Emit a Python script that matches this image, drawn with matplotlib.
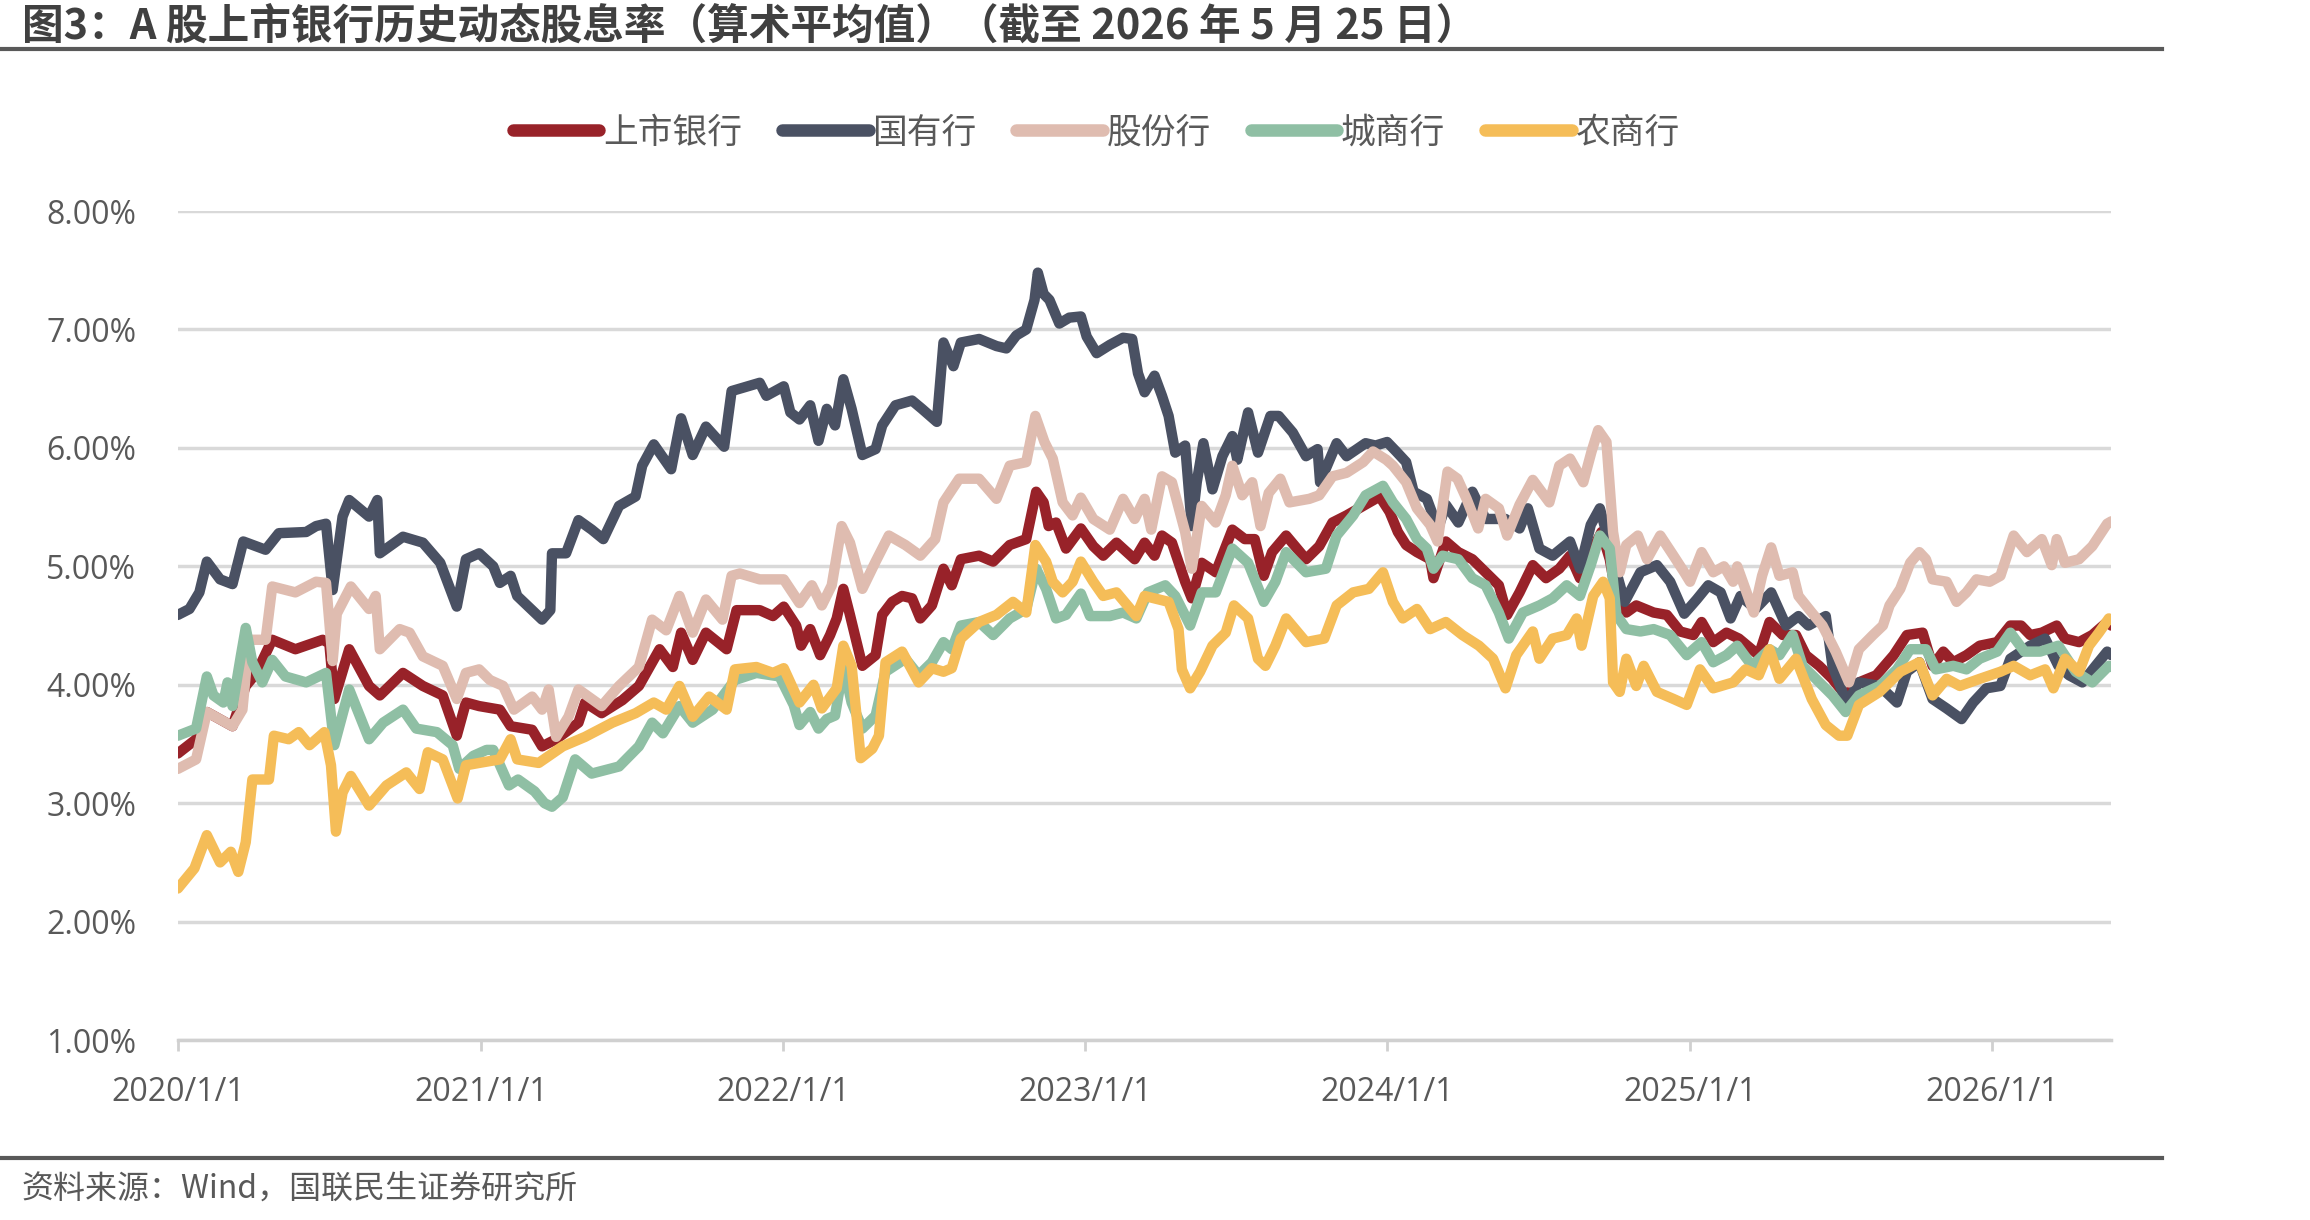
import pandas as pd
import matplotlib
matplotlib.use("Agg")
import matplotlib.pyplot as plt
from matplotlib.lines import Line2D
from matplotlib.ticker import FuncFormatter

plt.rcParams['font.family'] = ['Noto Sans CJK SC', 'DejaVu Sans']

# (date, dividend yield %)
listed = [
    ("2020-01-01", 3.42), ("2020-01-23", 3.54), ("2020-02-05", 3.77), ("2020-03-07", 3.65), ("2020-03-23", 3.99),
    ("2020-04-05", 4.10), ("2020-04-24", 4.38), ("2020-05-22", 4.30), ("2020-06-24", 4.38), ("2020-07-02", 4.35),
    ("2020-07-08", 3.88), ("2020-07-26", 4.30), ("2020-08-19", 3.99), ("2020-09-01", 3.91), ("2020-09-29", 4.10),
    ("2020-10-23", 3.99), ("2020-11-16", 3.91), ("2020-12-03", 3.57), ("2020-12-14", 3.85), ("2020-12-30", 3.82),
    ("2021-01-24", 3.79), ("2021-02-06", 3.65), ("2021-03-04", 3.62), ("2021-03-16", 3.48), ("2021-04-02", 3.54),
    ("2021-04-29", 3.68), ("2021-05-07", 3.85), ("2021-05-27", 3.76), ("2021-06-21", 3.87), ("2021-07-11", 3.99),
    ("2021-08-05", 4.30), ("2021-08-21", 4.15), ("2021-08-31", 4.44), ("2021-09-14", 4.21), ("2021-09-30", 4.44),
    ("2021-10-25", 4.30), ("2021-11-06", 4.63), ("2021-12-04", 4.63), ("2021-12-20", 4.58), ("2022-01-02", 4.66),
    ("2022-01-17", 4.50), ("2022-01-23", 4.33), ("2022-02-03", 4.47), ("2022-02-15", 4.25), ("2022-02-27", 4.42),
    ("2022-03-07", 4.56), ("2022-03-15", 4.81), ("2022-03-23", 4.59), ("2022-04-07", 4.16), ("2022-04-23", 4.25),
    ("2022-05-01", 4.59), ("2022-05-13", 4.70), ("2022-05-25", 4.75), ("2022-06-06", 4.73), ("2022-06-16", 4.56),
    ("2022-06-30", 4.67), ("2022-07-14", 4.98), ("2022-07-24", 4.84), ("2022-08-04", 5.06), ("2022-08-26", 5.09),
    ("2022-09-12", 5.04), ("2022-10-02", 5.18), ("2022-10-22", 5.23), ("2022-11-03", 5.63), ("2022-11-12", 5.54),
    ("2022-11-18", 5.34), ("2022-11-27", 5.37), ("2022-12-09", 5.15), ("2022-12-27", 5.32), ("2023-01-11", 5.17),
    ("2023-01-23", 5.09), ("2023-02-08", 5.20), ("2023-03-02", 5.06), ("2023-03-14", 5.20), ("2023-03-26", 5.09),
    ("2023-04-04", 5.26), ("2023-04-16", 5.20), ("2023-05-02", 4.87), ("2023-05-10", 4.73), ("2023-05-22", 5.03),
    ("2023-06-08", 4.95), ("2023-06-28", 5.31), ("2023-07-13", 5.23), ("2023-07-25", 5.23), ("2023-08-05", 4.92),
    ("2023-08-15", 5.12), ("2023-09-01", 5.26), ("2023-09-25", 5.06), ("2023-10-11", 5.17), ("2023-10-27", 5.37),
    ("2023-11-13", 5.43), ("2023-12-03", 5.51), ("2023-12-23", 5.59), ("2024-01-04", 5.46), ("2024-01-14", 5.29),
    ("2024-01-24", 5.18), ("2024-02-06", 5.12), ("2024-02-22", 5.06), ("2024-02-26", 4.90), ("2024-03-12", 5.21),
    ("2024-03-27", 5.12), ("2024-04-13", 5.06), ("2024-04-29", 4.95), ("2024-05-15", 4.84), ("2024-05-25", 4.59),
    ("2024-06-09", 4.78), ("2024-06-25", 5.01), ("2024-07-11", 4.90), ("2024-07-27", 4.98), ("2024-08-09", 5.09),
    ("2024-08-21", 4.90), ("2024-09-06", 5.15), ("2024-09-16", 5.29), ("2024-09-26", 5.06), ("2024-10-04", 4.75),
    ("2024-10-16", 4.61), ("2024-10-28", 4.67), ("2024-11-18", 4.61), ("2024-12-04", 4.59), ("2024-12-20", 4.45),
    ("2025-01-05", 4.42), ("2025-01-15", 4.53), ("2025-01-29", 4.36), ("2025-02-14", 4.44), ("2025-03-01", 4.39),
    ("2025-03-25", 4.25), ("2025-04-07", 4.53), ("2025-04-23", 4.42), ("2025-05-09", 4.42), ("2025-05-21", 4.25),
    ("2025-06-06", 4.16), ("2025-06-22", 4.05), ("2025-07-08", 3.91), ("2025-07-24", 4.02), ("2025-08-14", 4.08),
    ("2025-09-04", 4.25), ("2025-09-20", 4.42), ("2025-10-09", 4.44), ("2025-10-21", 4.16), ("2025-11-03", 4.28),
    ("2025-11-15", 4.19), ("2025-12-01", 4.25), ("2025-12-17", 4.33), ("2026-01-07", 4.36), ("2026-01-23", 4.50),
    ("2026-02-05", 4.50), ("2026-02-16", 4.42), ("2026-03-02", 4.44), ("2026-03-20", 4.50), ("2026-03-30", 4.39),
    ("2026-04-16", 4.36), ("2026-05-02", 4.42), ("2026-05-20", 4.53), ("2026-05-25", 4.50),
]

state = [
    ("2020-01-01", 4.59), ("2020-01-15", 4.64), ("2020-01-27", 4.78), ("2020-02-05", 5.04), ("2020-02-21", 4.89),
    ("2020-03-07", 4.85), ("2020-03-20", 5.21), ("2020-04-16", 5.14), ("2020-05-02", 5.28), ("2020-06-04", 5.29),
    ("2020-06-16", 5.34), ("2020-06-28", 5.36), ("2020-07-06", 4.80), ("2020-07-18", 5.42), ("2020-07-26", 5.56),
    ("2020-08-19", 5.42), ("2020-08-29", 5.56), ("2020-09-01", 5.11), ("2020-09-29", 5.25), ("2020-10-23", 5.20),
    ("2020-11-13", 5.03), ("2020-12-03", 4.66), ("2020-12-14", 5.06), ("2020-12-30", 5.11), ("2021-01-16", 5.00),
    ("2021-01-24", 4.86), ("2021-02-06", 4.92), ("2021-02-14", 4.75), ("2021-03-04", 4.63), ("2021-03-16", 4.55),
    ("2021-03-26", 4.63), ("2021-03-28", 5.11), ("2021-04-14", 5.11), ("2021-04-29", 5.39), ("2021-05-15", 5.31),
    ("2021-05-29", 5.23), ("2021-06-17", 5.51), ("2021-07-07", 5.59), ("2021-07-15", 5.85), ("2021-07-29", 6.03),
    ("2021-08-19", 5.82), ("2021-08-31", 6.25), ("2021-09-14", 5.94), ("2021-09-30", 6.18), ("2021-10-22", 6.01),
    ("2021-10-31", 6.48), ("2021-12-04", 6.55), ("2021-12-12", 6.44), ("2022-01-02", 6.52), ("2022-01-10", 6.30),
    ("2022-01-21", 6.24), ("2022-02-03", 6.36), ("2022-02-13", 6.06), ("2022-02-23", 6.33), ("2022-03-05", 6.19),
    ("2022-03-15", 6.58), ("2022-03-25", 6.33), ("2022-04-07", 5.94), ("2022-04-23", 5.99), ("2022-05-01", 6.19),
    ("2022-05-17", 6.36), ("2022-06-06", 6.40), ("2022-06-18", 6.33), ("2022-07-06", 6.22), ("2022-07-14", 6.89),
    ("2022-07-26", 6.69), ("2022-08-04", 6.89), ("2022-08-26", 6.92), ("2022-09-16", 6.86), ("2022-09-28", 6.84),
    ("2022-10-10", 6.95), ("2022-10-22", 7.00), ("2022-11-01", 7.25), ("2022-11-05", 7.48), ("2022-11-12", 7.30),
    ("2022-11-19", 7.25), ("2022-12-01", 7.05), ("2022-12-13", 7.10), ("2022-12-27", 7.11), ("2023-01-03", 6.94),
    ("2023-01-15", 6.80), ("2023-01-31", 6.87), ("2023-02-16", 6.93), ("2023-02-27", 6.92), ("2023-03-06", 6.63),
    ("2023-03-14", 6.47), ("2023-03-26", 6.61), ("2023-04-04", 6.44), ("2023-04-12", 6.27), ("2023-04-20", 5.96),
    ("2023-05-02", 6.02), ("2023-05-10", 5.34), ("2023-05-16", 5.71), ("2023-05-24", 6.04), ("2023-06-04", 5.65),
    ("2023-06-16", 5.93), ("2023-06-28", 6.10), ("2023-07-04", 5.90), ("2023-07-17", 6.30), ("2023-07-29", 5.96),
    ("2023-08-13", 6.27), ("2023-08-23", 6.27), ("2023-09-09", 6.13), ("2023-09-25", 5.93), ("2023-10-09", 5.99),
    ("2023-10-12", 5.71), ("2023-11-01", 6.04), ("2023-11-13", 5.93), ("2023-12-06", 6.04), ("2023-12-18", 6.02),
    ("2024-01-01", 6.05), ("2024-01-12", 5.97), ("2024-01-24", 5.88), ("2024-02-02", 5.63), ("2024-02-18", 5.57),
    ("2024-02-27", 5.40), ("2024-03-04", 5.35), ("2024-03-12", 5.52), ("2024-03-27", 5.37), ("2024-04-13", 5.63),
    ("2024-04-29", 5.40), ("2024-05-23", 5.40), ("2024-06-09", 5.32), ("2024-06-19", 5.49), ("2024-07-03", 5.15),
    ("2024-07-19", 5.09), ("2024-08-09", 5.21), ("2024-08-21", 4.98), ("2024-09-03", 5.35), ("2024-09-14", 5.49),
    ("2024-09-26", 5.18), ("2024-10-04", 4.95), ("2024-10-14", 4.70), ("2024-11-02", 4.95), ("2024-11-22", 5.01),
    ("2024-12-08", 4.87), ("2024-12-25", 4.60), ("2025-01-09", 4.72), ("2025-01-23", 4.84), ("2025-02-07", 4.78),
    ("2025-02-19", 4.56), ("2025-03-03", 4.75), ("2025-03-21", 4.64), ("2025-04-09", 4.78), ("2025-04-27", 4.50),
    ("2025-05-12", 4.58), ("2025-05-24", 4.50), ("2025-06-14", 4.58), ("2025-06-22", 4.16), ("2025-07-04", 3.94),
    ("2025-07-10", 3.85), ("2025-07-24", 4.02), ("2025-08-18", 3.99), ("2025-09-08", 3.85), ("2025-09-20", 4.11),
    ("2025-10-05", 4.19), ("2025-10-21", 3.88), ("2025-11-07", 3.80), ("2025-11-25", 3.71), ("2025-12-09", 3.85),
    ("2025-12-25", 3.97), ("2026-01-11", 3.99), ("2026-01-23", 4.22), ("2026-02-16", 4.33), ("2026-03-06", 4.39),
    ("2026-03-22", 4.16), ("2026-04-04", 4.08), ("2026-04-20", 4.02), ("2026-05-06", 4.16), ("2026-05-20", 4.28),
    ("2026-05-25", 4.25),
]

joint = [
    ("2020-01-01", 3.29), ("2020-01-23", 3.37), ("2020-02-05", 3.77), ("2020-03-07", 3.65), ("2020-03-19", 3.79),
    ("2020-03-27", 4.38), ("2020-04-16", 4.38), ("2020-04-24", 4.83), ("2020-05-22", 4.78), ("2020-06-16", 4.87),
    ("2020-06-28", 4.86), ("2020-07-06", 4.20), ("2020-07-11", 4.60), ("2020-07-28", 4.83), ("2020-08-19", 4.64),
    ("2020-08-27", 4.75), ("2020-09-01", 4.30), ("2020-09-25", 4.47), ("2020-10-07", 4.44), ("2020-10-23", 4.24),
    ("2020-11-16", 4.16), ("2020-12-03", 3.88), ("2020-12-14", 4.10), ("2020-12-30", 4.13), ("2021-01-12", 4.04),
    ("2021-01-28", 3.99), ("2021-02-10", 3.79), ("2021-03-04", 3.90), ("2021-03-16", 3.79), ("2021-03-24", 3.96),
    ("2021-04-02", 3.56), ("2021-04-17", 3.73), ("2021-04-29", 3.96), ("2021-05-27", 3.82), ("2021-06-17", 3.99),
    ("2021-07-11", 4.15), ("2021-07-27", 4.55), ("2021-08-13", 4.46), ("2021-08-29", 4.75), ("2021-09-14", 4.44),
    ("2021-09-30", 4.72), ("2021-10-20", 4.55), ("2021-10-31", 4.92), ("2021-11-10", 4.94), ("2021-12-04", 4.89),
    ("2022-01-02", 4.89), ("2022-01-21", 4.69), ("2022-02-05", 4.84), ("2022-02-17", 4.67), ("2022-03-01", 4.84),
    ("2022-03-13", 5.34), ("2022-03-23", 5.20), ("2022-04-07", 4.81), ("2022-04-23", 5.04), ("2022-05-09", 5.26),
    ("2022-05-29", 5.18), ("2022-06-16", 5.09), ("2022-07-04", 5.23), ("2022-07-14", 5.54), ("2022-08-02", 5.74),
    ("2022-08-26", 5.74), ("2022-09-16", 5.57), ("2022-10-02", 5.85), ("2022-10-22", 5.88), ("2022-11-02", 6.27),
    ("2022-11-13", 6.05), ("2022-11-23", 5.91), ("2022-12-05", 5.54), ("2022-12-17", 5.43), ("2022-12-27", 5.58),
    ("2023-01-11", 5.40), ("2023-01-31", 5.31), ("2023-02-16", 5.57), ("2023-03-02", 5.40), ("2023-03-14", 5.57),
    ("2023-03-22", 5.31), ("2023-04-04", 5.76), ("2023-04-16", 5.71), ("2023-05-02", 5.29), ("2023-05-10", 4.98),
    ("2023-05-22", 5.51), ("2023-06-08", 5.37), ("2023-06-20", 5.60), ("2023-06-28", 5.85), ("2023-07-10", 5.60),
    ("2023-07-22", 5.71), ("2023-08-01", 5.34), ("2023-08-11", 5.62), ("2023-08-25", 5.74), ("2023-09-05", 5.54),
    ("2023-09-29", 5.57), ("2023-10-11", 5.60), ("2023-10-27", 5.76), ("2023-11-13", 5.79), ("2023-12-03", 5.88),
    ("2023-12-15", 5.97), ("2023-12-31", 5.90), ("2024-01-08", 5.85), ("2024-01-24", 5.71), ("2024-02-06", 5.49),
    ("2024-02-22", 5.35), ("2024-03-02", 5.21), ("2024-03-14", 5.80), ("2024-03-26", 5.74), ("2024-04-06", 5.57),
    ("2024-04-20", 5.32), ("2024-04-29", 5.57), ("2024-05-15", 5.49), ("2024-05-25", 5.26), ("2024-06-09", 5.52),
    ("2024-06-25", 5.73), ("2024-07-15", 5.54), ("2024-07-27", 5.85), ("2024-08-09", 5.91), ("2024-08-25", 5.71),
    ("2024-09-04", 5.97), ("2024-09-12", 6.15), ("2024-09-22", 6.05), ("2024-09-30", 5.29), ("2024-10-08", 4.95),
    ("2024-10-16", 5.18), ("2024-10-30", 5.26), ("2024-11-10", 5.06), ("2024-11-26", 5.26), ("2024-12-12", 5.09),
    ("2024-12-25", 4.95), ("2025-01-01", 4.87), ("2025-01-15", 5.12), ("2025-01-29", 4.95), ("2025-02-11", 5.00),
    ("2025-02-22", 4.87), ("2025-02-27", 5.00), ("2025-03-19", 4.61), ("2025-03-29", 4.92), ("2025-04-09", 5.16),
    ("2025-04-19", 4.92), ("2025-05-05", 4.95), ("2025-05-12", 4.75), ("2025-05-28", 4.61), ("2025-06-10", 4.50),
    ("2025-06-26", 4.28), ("2025-07-12", 4.02), ("2025-07-24", 4.30), ("2025-08-10", 4.42), ("2025-08-22", 4.50),
    ("2025-08-30", 4.67), ("2025-09-12", 4.81), ("2025-09-24", 5.03), ("2025-10-05", 5.12), ("2025-10-13", 5.06),
    ("2025-10-21", 4.89), ("2025-11-07", 4.87), ("2025-11-19", 4.70), ("2025-12-01", 4.78), ("2025-12-13", 4.89),
    ("2025-12-29", 4.87), ("2026-01-11", 4.92), ("2026-01-27", 5.26), ("2026-02-12", 5.12), ("2026-03-02", 5.23),
    ("2026-03-14", 5.01), ("2026-03-20", 5.23), ("2026-03-30", 5.03), ("2026-04-16", 5.06), ("2026-05-02", 5.17),
    ("2026-05-20", 5.36), ("2026-05-25", 5.38),
]

city = [
    ("2020-01-01", 3.57), ("2020-01-23", 3.63), ("2020-02-05", 4.07), ("2020-02-13", 3.91), ("2020-02-25", 3.85),
    ("2020-03-01", 4.02), ("2020-03-07", 3.82), ("2020-03-17", 4.24), ("2020-03-23", 4.48), ("2020-03-31", 4.19),
    ("2020-04-12", 4.02), ("2020-04-24", 4.21), ("2020-05-10", 4.07), ("2020-06-04", 4.02), ("2020-06-28", 4.10),
    ("2020-07-08", 3.49), ("2020-07-26", 3.96), ("2020-08-19", 3.54), ("2020-09-05", 3.68), ("2020-09-29", 3.79),
    ("2020-10-15", 3.63), ("2020-11-09", 3.60), ("2020-11-28", 3.49), ("2020-12-06", 3.29), ("2020-12-23", 3.40),
    ("2021-01-08", 3.45), ("2021-01-16", 3.45), ("2021-02-04", 3.15), ("2021-02-15", 3.20), ("2021-03-07", 3.10),
    ("2021-03-19", 3.00), ("2021-03-28", 2.97), ("2021-04-10", 3.05), ("2021-04-25", 3.37), ("2021-05-15", 3.25),
    ("2021-06-17", 3.31), ("2021-07-11", 3.48), ("2021-07-27", 3.68), ("2021-08-09", 3.59), ("2021-08-29", 3.82),
    ("2021-09-14", 3.68), ("2021-10-08", 3.79), ("2021-11-04", 4.04), ("2021-11-30", 4.10), ("2021-12-28", 4.07),
    ("2022-01-14", 3.83), ("2022-01-21", 3.66), ("2022-02-03", 3.77), ("2022-02-13", 3.63), ("2022-02-23", 3.71),
    ("2022-03-05", 3.74), ("2022-03-15", 4.16), ("2022-03-25", 3.85), ("2022-04-07", 3.63), ("2022-04-23", 3.74),
    ("2022-05-05", 4.11), ("2022-05-29", 4.22), ("2022-06-14", 4.08), ("2022-06-30", 4.19), ("2022-07-14", 4.36),
    ("2022-07-24", 4.30), ("2022-08-04", 4.50), ("2022-08-26", 4.53), ("2022-09-12", 4.42), ("2022-10-02", 4.56),
    ("2022-10-22", 4.64), ("2022-11-03", 4.98), ("2022-11-15", 4.81), ("2022-11-27", 4.56), ("2022-12-09", 4.59),
    ("2022-12-27", 4.77), ("2023-01-07", 4.58), ("2023-01-31", 4.58), ("2023-02-16", 4.61), ("2023-03-04", 4.56),
    ("2023-03-18", 4.78), ("2023-04-08", 4.84), ("2023-04-20", 4.75), ("2023-05-08", 4.50), ("2023-05-22", 4.78),
    ("2023-06-08", 4.78), ("2023-06-28", 5.15), ("2023-07-17", 5.03), ("2023-08-05", 4.70), ("2023-08-19", 4.87),
    ("2023-09-01", 5.12), ("2023-09-25", 4.95), ("2023-10-19", 4.98), ("2023-11-01", 5.26), ("2023-11-21", 5.43),
    ("2023-12-06", 5.60), ("2023-12-27", 5.68), ("2024-01-08", 5.54), ("2024-01-24", 5.40), ("2024-02-06", 5.23),
    ("2024-02-18", 5.15), ("2024-02-26", 4.98), ("2024-03-08", 5.09), ("2024-03-27", 5.06), ("2024-04-13", 4.90),
    ("2024-04-29", 4.84), ("2024-05-15", 4.61), ("2024-05-27", 4.39), ("2024-06-13", 4.61), ("2024-07-03", 4.67),
    ("2024-07-19", 4.73), ("2024-08-05", 4.84), ("2024-08-21", 4.75), ("2024-09-03", 5.01), ("2024-09-14", 5.26),
    ("2024-09-26", 5.15), ("2024-10-04", 4.59), ("2024-10-16", 4.47), ("2024-11-02", 4.45), ("2024-11-18", 4.47),
    ("2024-12-08", 4.42), ("2024-12-28", 4.25), ("2025-01-15", 4.36), ("2025-01-29", 4.19), ("2025-02-14", 4.25),
    ("2025-02-27", 4.33), ("2025-03-17", 4.16), ("2025-04-07", 4.30), ("2025-04-19", 4.25), ("2025-05-05", 4.42),
    ("2025-05-17", 4.16), ("2025-06-02", 4.05), ("2025-06-22", 3.91), ("2025-07-08", 3.77), ("2025-07-24", 3.91),
    ("2025-08-18", 3.99), ("2025-09-08", 4.13), ("2025-09-24", 4.30), ("2025-10-13", 4.30), ("2025-10-25", 4.13),
    ("2025-11-15", 4.16), ("2025-12-01", 4.13), ("2025-12-17", 4.22), ("2026-01-07", 4.28), ("2026-01-23", 4.44),
    ("2026-02-09", 4.28), ("2026-02-28", 4.28), ("2026-03-22", 4.33), ("2026-04-12", 4.11), ("2026-05-02", 4.02),
    ("2026-05-22", 4.16), ("2026-05-25", 4.15),
]

rural = [
    ("2020-01-01", 2.28), ("2020-01-21", 2.45), ("2020-02-05", 2.73), ("2020-02-21", 2.50), ("2020-03-05", 2.59),
    ("2020-03-14", 2.42), ("2020-03-23", 2.67), ("2020-03-31", 3.20), ("2020-04-20", 3.20), ("2020-04-26", 3.57),
    ("2020-05-14", 3.54), ("2020-05-26", 3.60), ("2020-06-08", 3.49), ("2020-06-26", 3.60), ("2020-07-04", 3.32),
    ("2020-07-10", 2.76), ("2020-07-18", 3.09), ("2020-07-28", 3.23), ("2020-08-19", 2.98), ("2020-09-09", 3.15),
    ("2020-10-03", 3.26), ("2020-10-19", 3.12), ("2020-10-29", 3.43), ("2020-11-16", 3.37), ("2020-12-04", 3.04),
    ("2020-12-14", 3.32), ("2020-12-30", 3.34), ("2021-01-24", 3.37), ("2021-02-06", 3.54), ("2021-02-14", 3.37),
    ("2021-03-12", 3.34), ("2021-04-10", 3.48), ("2021-05-07", 3.56), ("2021-06-09", 3.68), ("2021-07-07", 3.76),
    ("2021-07-29", 3.85), ("2021-08-13", 3.79), ("2021-08-29", 3.99), ("2021-09-14", 3.73), ("2021-10-04", 3.90),
    ("2021-10-25", 3.79), ("2021-11-04", 4.13), ("2021-11-30", 4.15), ("2021-12-20", 4.10), ("2022-01-02", 4.14),
    ("2022-01-21", 3.85), ("2022-02-07", 4.00), ("2022-02-17", 3.80), ("2022-03-07", 3.97), ("2022-03-15", 4.33),
    ("2022-03-25", 4.16), ("2022-04-05", 3.38), ("2022-04-19", 3.46), ("2022-04-27", 3.57), ("2022-05-05", 4.19),
    ("2022-05-25", 4.28), ("2022-06-14", 4.02), ("2022-06-30", 4.14), ("2022-07-14", 4.11), ("2022-07-24", 4.14),
    ("2022-08-04", 4.39), ("2022-08-26", 4.53), ("2022-09-16", 4.59), ("2022-10-06", 4.70), ("2022-10-22", 4.61),
    ("2022-11-02", 5.18), ("2022-11-15", 5.04), ("2022-11-23", 4.87), ("2022-12-05", 4.78), ("2022-12-17", 4.87),
    ("2022-12-27", 5.04), ("2023-01-11", 4.87), ("2023-01-23", 4.75), ("2023-02-08", 4.78), ("2023-03-04", 4.58),
    ("2023-03-14", 4.75), ("2023-04-12", 4.70), ("2023-04-24", 4.47), ("2023-04-28", 4.13), ("2023-05-08", 3.97),
    ("2023-05-20", 4.11), ("2023-06-04", 4.33), ("2023-06-20", 4.44), ("2023-06-30", 4.67), ("2023-07-17", 4.56),
    ("2023-07-29", 4.22), ("2023-08-07", 4.16), ("2023-08-19", 4.33), ("2023-09-01", 4.56), ("2023-09-25", 4.36),
    ("2023-10-17", 4.39), ("2023-11-01", 4.67), ("2023-11-21", 4.78), ("2023-12-10", 4.81), ("2023-12-27", 4.95),
    ("2024-01-08", 4.70), ("2024-01-20", 4.56), ("2024-02-06", 4.64), ("2024-02-22", 4.47), ("2024-03-12", 4.53),
    ("2024-04-01", 4.42), ("2024-04-21", 4.33), ("2024-05-08", 4.22), ("2024-05-23", 3.97), ("2024-06-05", 4.25),
    ("2024-06-25", 4.45), ("2024-07-03", 4.22), ("2024-07-19", 4.39), ("2024-08-05", 4.42), ("2024-08-17", 4.56),
    ("2024-08-23", 4.33), ("2024-09-06", 4.75), ("2024-09-18", 4.87), ("2024-09-26", 4.73), ("2024-09-30", 4.02),
    ("2024-10-08", 3.94), ("2024-10-16", 4.22), ("2024-10-28", 3.99), ("2024-11-06", 4.16), ("2024-11-22", 3.94),
    ("2024-12-12", 3.88), ("2024-12-28", 3.83), ("2025-01-13", 4.13), ("2025-01-29", 3.97), ("2025-02-22", 4.02),
    ("2025-03-09", 4.13), ("2025-03-25", 4.08), ("2025-04-07", 4.30), ("2025-04-19", 4.05), ("2025-05-09", 4.22),
    ("2025-05-28", 3.88), ("2025-06-14", 3.66), ("2025-06-30", 3.57), ("2025-07-10", 3.57), ("2025-07-24", 3.83),
    ("2025-08-18", 3.94), ("2025-09-12", 4.11), ("2025-10-05", 4.19), ("2025-10-21", 3.91), ("2025-11-07", 4.05),
    ("2025-11-23", 3.99), ("2025-12-17", 4.05), ("2026-01-11", 4.11), ("2026-01-27", 4.16), ("2026-02-16", 4.08),
    ("2026-03-06", 4.13), ("2026-03-16", 3.97), ("2026-03-30", 4.22), ("2026-04-16", 4.11), ("2026-04-28", 4.33),
    ("2026-05-10", 4.44), ("2026-05-22", 4.56), ("2026-05-25", 4.55),
]

names = ["上市银行", "国有行", "股份行", "城商行", "农商行"]
colors = ["#982229", "#4A5163", "#DFBCB0", "#8FBFA4", "#F5BD58"]
tick_years = [2020, 2021, 2022, 2023, 2024, 2025, 2026]

fig = plt.figure(figsize=(23.1, 12.2), dpi=100)
ax = fig.add_axes([0.077, 0.1475, 0.837, 0.6795])

for name, col, series in zip(names, colors, [listed, state, joint, city, rural]):
    d = pd.to_datetime([s[0] for s in series])
    v = [s[1] for s in series]
    ax.plot(d, v, color=col, lw=7.5, label=name, solid_capstyle='round', solid_joinstyle='round')

ax.set_ylim(1, 8)
ax.set_xlim(pd.Timestamp("2020-01-01"), pd.Timestamp("2026-05-25"))
ax.set_yticks(range(1, 9))
ax.yaxis.set_major_formatter(FuncFormatter(lambda y, p: f"{y:.2f}%"))
ax.set_xticks([pd.Timestamp(f"{y}-01-01") for y in tick_years])
ax.set_xticklabels([f"{y}/1/1" for y in tick_years])
ax.grid(axis='y', color='#D9D9D9', lw=2.5)
ax.set_axisbelow(True)
for s in ['top', 'right', 'left']:
    ax.spines[s].set_visible(False)
ax.spines['bottom'].set_color('#D0D0D0')
ax.spines['bottom'].set_linewidth(2.5)
ax.tick_params(axis='y', length=0, pad=30, labelsize=23, labelcolor='#595959')
ax.tick_params(axis='x', length=8, width=2, color='#D0D0D0', pad=18, labelsize=23, labelcolor='#595959')
for lab in ax.get_xticklabels() + ax.get_yticklabels():
    lab.set_family(['Open Sans', 'DejaVu Sans'])

leg = fig.legend(loc='center', bbox_to_anchor=(0.4745, 0.891), ncol=5, frameon=False,
                 fontsize=25, handlelength=2.5, handletextpad=0.1, columnspacing=1.15)
for t in leg.get_texts():
    t.set_color('#595959')
for h in leg.legend_handles:
    h.set_linewidth(9)

fig.text(0.0095, 0.978, "图3：A 股上市银行历史动态股息率（算术平均值）（截至 2026 年 5 月 25 日）",
         fontsize=30, fontweight='bold', color='#404040', va='center', ha='left')
fig.add_artist(Line2D([0, 0.936], [0.96, 0.96], color='#595959', lw=3))
fig.add_artist(Line2D([0, 0.936], [0.051, 0.051], color='#595959', lw=3))
fig.text(0.0095, 0.026, "资料来源：Wind，国联民生证券研究所", fontsize=23, color='#595959',
         va='center', ha='left')

fig.savefig("out.png", dpi=100)
